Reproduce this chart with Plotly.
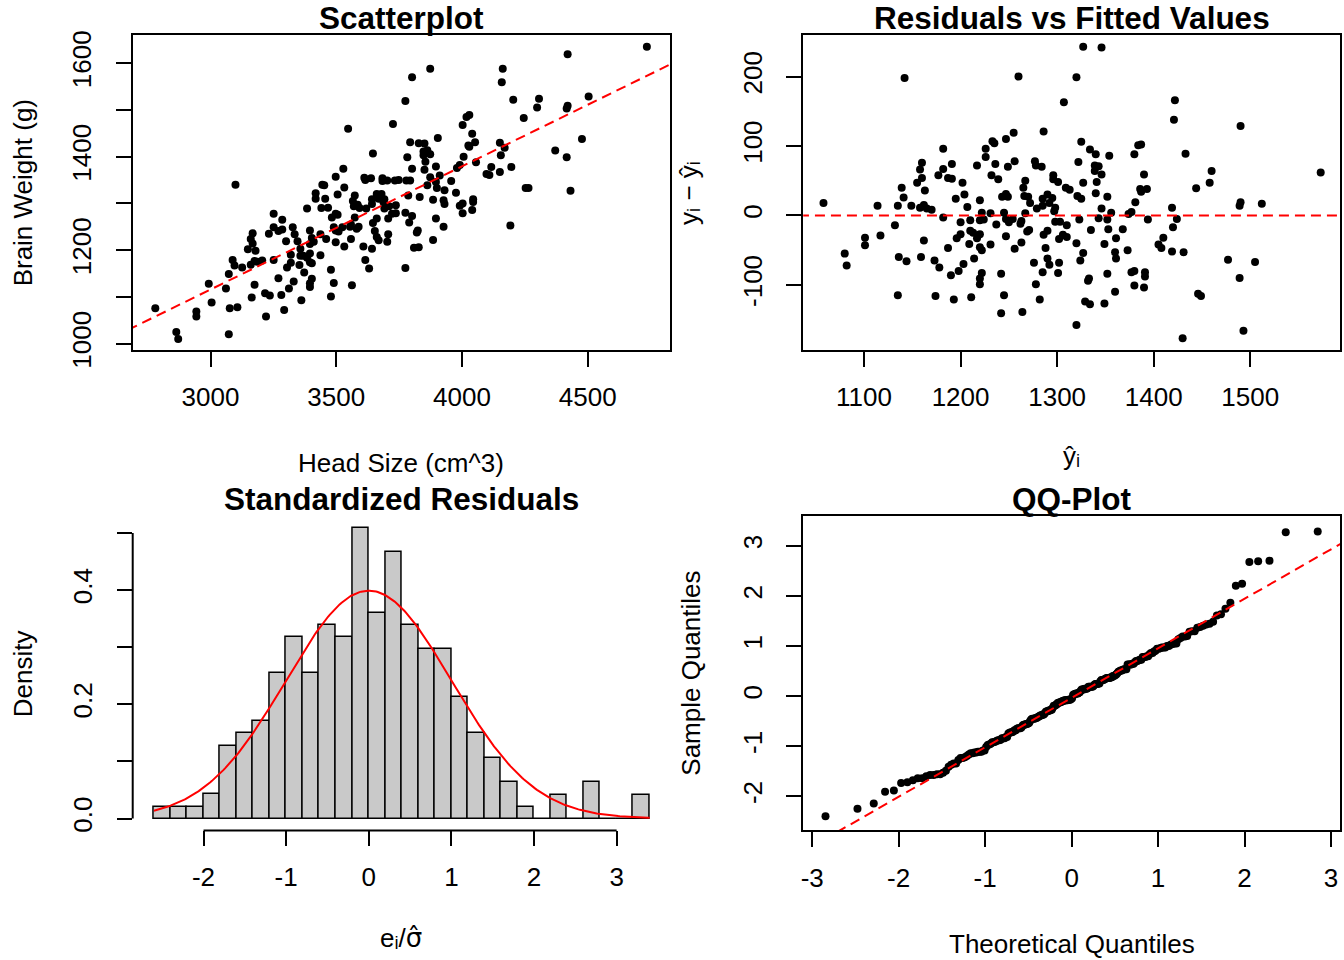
import numpy as np
import plotly.graph_objects as go
from statistics import NormalDist

# ---------------- data ----------------
# fitted values (y-hat) and residuals, read from the "Residuals vs Fitted Values" panel
fitted_values = [
    1142, 1182, 1160, 1158, 1160, 1155, 1163, 1139, 1141, 1177, 1182, 1191, 1187, 1191, 1202, 1204, 1195, 1217,
    1220, 1058, 1114, 1135, 1149, 1158, 1162, 1165, 1170, 1182, 1207, 1222, 1231, 1200, 1210, 1220, 1224, 1132,
    1101, 1101, 1117, 1162, 1196, 1200, 1210, 1213, 1217, 1220, 1209, 1220, 1222, 1231, 1187, 1080, 1082, 1136,
    1144, 1159, 1173, 1178, 1190, 1198, 1203, 1214, 1222, 1220, 1220, 1135, 1174, 1193, 1211,
    1327, 1346, 1260, 1320, 1307, 1422, 1421, 1286, 1255, 1247, 1233, 1235, 1226, 1325, 1334, 1340, 1354, 1380,
    1384, 1387, 1226, 1236, 1256, 1249, 1277, 1278, 1284, 1322, 1339, 1343, 1339, 1346, 1232, 1239, 1267, 1265,
    1296, 1296, 1301, 1327, 1341, 1309, 1313, 1390, 1386, 1393, 1387, 1340, 1352, 1243, 1247, 1249, 1266, 1270,
    1285, 1290, 1295, 1321, 1325, 1381, 1272,
    1245, 1237, 1247, 1250, 1254, 1262, 1263, 1267, 1279, 1285, 1292, 1298, 1297, 1298, 1303, 1310, 1269, 1271,
    1290, 1286, 1302, 1306, 1310, 1247, 1256, 1263, 1288, 1290, 1292, 1276, 1285, 1302, 1301, 1320, 1327, 1324,
    1323, 1335, 1343, 1346, 1352, 1356, 1353, 1349, 1361, 1368, 1360, 1361, 1373, 1374, 1377, 1394, 1242, 1245,
    1242, 1264, 1278, 1282, 1333, 1332, 1329, 1334, 1320, 1349, 1352, 1360, 1377, 1380, 1391, 1391, 1380, 1390,
    1405, 1408, 1410, 1419, 1420, 1419,
    1490, 1433, 1460, 1458, 1444, 1573, 1490, 1489, 1512, 1424, 1431, 1477, 1505, 1489, 1446, 1449, 1493, 1430,
]
residuals = [
    198, 96, 76, 66, 54, 47, 36, 40, 26, 58, 67, 74, 54, 53, 47, 30, 24, 72,
    22, 18, 14, 14, 14, 11, 15, 10, 8, -3, 12, 4, 3, -10, -7, -7, -6, -14,
    -32, -43, -29, -36, -33, -27, -22, -25, -33, -27, -41, -46, -50, -42, -47, -55, -72, -60,
    -66, -60, -65, -75, -86, -80, -70, -62, -83, -91, -99, -115, -116, -121, -118,
    243, 242, 200, 199, 163, 166, 138, 121, 119, 110, 107, 104, 96, 106, 95, 88, 86, 88,
    101, 102, 84, 74, 78, 70, 78, 72, 70, 77, 72, 71, 64, 59, 58, 52, 50, 40,
    58, 52, 48, 47, 48, 40, 37, 59, 38, 38, 34, 32, 27, 27, 31, 27, 28, 27,
    24, 30, 25, 28, 24, 19, 18,
    4, -13, -5, -10, -5, -12, -8, 3, 10, 14, 18, 11, 6, -9, -9, -14, -23, -21,
    -22, -28, -34, -28, -31, -30, -48, -39, -47, -62, -71, -68, -82, -68, -83, -40, -54, -65,
    -6, -21, -4, 10, -6, 4, -20, -41, -33, -20, -53, -62, -50, 2, 5, -6, -84, -115,
    -141, -139, -99, -121, -91, -94, -124, -128, -158, -127, -84, -110, -82, -80, -82, -88, -101, -104,
    -42, -47, -32, 11, -17, -52,
    129, 89, 64, 47, 39, 62, 19, 14, 17, -5, -53, -64, -67, -90, -113, -116, -166, -177,
]

# least-squares line of the scatterplot (brain = intercept + slope * head)
fit_intercept = 325.573
fit_slope = 0.263429

# histogram of standardized residuals (densities)
hist_start = -2.6
hist_binwidth = 0.2
hist_density = [0.021, 0.021, 0.021, 0.043, 0.127, 0.149, 0.170, 0.255, 0.318, 0.255,
                0.339, 0.318, 0.509, 0.360, 0.467, 0.339, 0.297, 0.297, 0.212, 0.149,
                0.106, 0.064, 0.021, 0.0, 0.042, 0.0, 0.064, 0.0, 0.0, 0.042]

# tick values / labels
sc_xticks = [3000, 3500, 4000, 4500]
sc_yticks = [1000, 1200, 1400, 1600]
sc_yminor = [1100, 1300, 1500]
rv_xticks = [1100, 1200, 1300, 1400, 1500]
rv_yticks = [-100, 0, 100, 200]
rv_ylabels = ["-100", "0", "100", "200"]
h_xticks = [-2, -1, 0, 1, 2, 3]
h_xlabels = ["-2", "-1", "0", "1", "2", "3"]
h_yticks = [0.0, 0.2, 0.4]
h_ylabels = ["0.0", "0.2", "0.4"]
h_yminor = [0.1, 0.3, 0.5]
qq_xticks = [-3, -2, -1, 0, 1, 2, 3]
qq_xlabels = ["-3", "-2", "-1", "0", "1", "2", "3"]
qq_yticks = [-2, -1, 0, 1, 2, 3]
qq_ylabels = ["-2", "-1", "0", "1", "2", "3"]

# ---------------- derived quantities ----------------
fv = np.array(fitted_values, float)
res = np.array(residuals, float)
head_size = (fv - fit_intercept) / fit_slope
brain_weight = fv + res
n = len(res)
sigma_hat = np.sqrt(np.sum(res ** 2) / (n - 2))
std_res = res / sigma_hat
nd = NormalDist()
sample_q = np.sort(std_res)
theo_q = np.array([nd.inv_cdf((i - 0.5) / n) for i in range(1, n + 1)])
q1y, q3y = np.quantile(std_res, [0.25, 0.75])
q1x, q3x = nd.inv_cdf(0.25), nd.inv_cdf(0.75)
qq_b = (q3y - q1y) / (q3x - q1x)
qq_a = q1y - qq_b * q1x

nb = len(hist_density)
bin_centers = [hist_start + hist_binwidth * (i + 0.5) for i in range(nb)]
curve_x = np.linspace(hist_start, hist_start + hist_binwidth * nb, 300)
curve_y = [nd.pdf(v) for v in curve_x]

FONT = "Liberation Sans, Arial, Helvetica, sans-serif"
RED = "#FF0000"
DASH = "10px,6px"

fig = go.Figure()
mk = dict(color="black", size=8)

fig.add_trace(go.Scatter(x=head_size, y=brain_weight, mode="markers", marker=mk,
                         xaxis="x", yaxis="y", showlegend=False))
lx = np.array([2500.0, 5000.0])
fig.add_trace(go.Scatter(x=lx, y=fit_intercept + fit_slope * lx, mode="lines",
                         line=dict(color=RED, width=2, dash=DASH), xaxis="x", yaxis="y", showlegend=False))

fig.add_trace(go.Scatter(x=fv, y=res, mode="markers", marker=mk, xaxis="x2", yaxis="y2", showlegend=False))
fig.add_trace(go.Scatter(x=[900, 1800], y=[0, 0], mode="lines",
                         line=dict(color=RED, width=2, dash=DASH), xaxis="x2", yaxis="y2", showlegend=False))

fig.add_trace(go.Bar(x=bin_centers, y=hist_density, width=hist_binwidth,
                     marker=dict(color="#C9C9C9", line=dict(color="black", width=1.5)),
                     xaxis="x3", yaxis="y3", showlegend=False))
fig.add_trace(go.Scatter(x=curve_x, y=curve_y, mode="lines", line=dict(color=RED, width=2),
                         xaxis="x3", yaxis="y3", showlegend=False))

fig.add_trace(go.Scatter(x=theo_q, y=sample_q, mode="markers", marker=mk, xaxis="x4", yaxis="y4", showlegend=False))
qx = np.array([-4.0, 4.0])
fig.add_trace(go.Scatter(x=qx, y=qq_a + qq_b * qx, mode="lines",
                         line=dict(color=RED, width=2, dash=DASH), xaxis="x4", yaxis="y4", showlegend=False))

# page geometry (body margin removed by the post script)
W, H = 1344, 985
Y0, YS = 3.9, 0.975   # observed vertical placement of the rendered page


def py(v):
    return (v - Y0) / YS


def dx(a, b):
    return [max(0.0, a / W), min(1.0, b / W)]


def dy(top, bottom):
    return [max(0.0, 1 - py(bottom) / H), min(1.0, 1 - py(top) / H)]


common = dict(showgrid=False, zeroline=False, ticks="outside", ticklen=15, tickwidth=2,
              tickcolor="black", tickfont=dict(size=26, family=FONT, color="black"),
              linecolor="black", linewidth=2)
xcommon = dict(common, ticklabelstandoff=8)
ycommon = dict(common, ticklabelstandoff=14)
minor_style = dict(ticks="outside", ticklen=15, tickwidth=2, tickcolor="black", showgrid=False)

fig.update_layout(
    width=W, height=H, margin=dict(l=0, r=0, t=0, b=0),
    paper_bgcolor="white", plot_bgcolor="white", bargap=0,
    xaxis=dict(domain=dx(130, 668), range=[2690.5, 4825.4], anchor="y", showline=True, mirror=True,
               tickvals=sc_xticks, **xcommon),
    yaxis=dict(domain=dy(35, 349), range=[987.1, 1660], anchor="x", showline=True, mirror=True,
               tickvals=sc_yticks, tickangle=-90, minor=dict(tickvals=sc_yminor, **minor_style), **ycommon),
    xaxis2=dict(domain=dx(802, 1340), range=[1037, 1593], anchor="y2", showline=True, mirror=True,
                tickvals=rv_xticks, **xcommon),
    yaxis2=dict(domain=dy(35, 349), range=[-193.4, 259.7], anchor="x2", showline=True, mirror=True,
                tickvals=rv_yticks, ticktext=rv_ylabels, tickangle=-90, **ycommon),
    xaxis3=dict(domain=dx(130, 668), range=[-2.857, 3.64], anchor="y3", showline=False,
                tickvals=h_xticks, ticktext=h_xlabels, **xcommon),
    yaxis3=dict(domain=dy(515, 829), range=[-0.021, 0.5298], anchor="x3", showline=False,
                tickvals=h_yticks, ticktext=h_ylabels, tickangle=-90,
                minor=dict(tickvals=h_yminor, **minor_style), **ycommon),
    xaxis4=dict(domain=dx(802, 1340), range=[-3.104, 3.104], anchor="y4", showline=True, mirror=True,
                tickvals=qq_xticks, ticktext=qq_xlabels, **xcommon),
    yaxis4=dict(domain=dy(515, 829), range=[-2.68, 3.6], anchor="x4", showline=True, mirror=True,
                tickvals=qq_yticks, ticktext=qq_ylabels, tickangle=-90, **ycommon),
)

# R-style axis lines for the histogram (span first to last tick)
fig.add_shape(type="line", xref="x3", yref="y3 domain", x0=h_xticks[0], x1=h_xticks[-1], y0=0, y1=0,
              line=dict(color="black", width=2))
fig.add_shape(type="line", xref="x3 domain", yref="y3", x0=0, x1=0, y0=0, y1=h_yminor[-1],
              line=dict(color="black", width=2))


def ann(text, xp, yp, size=26, bold=False, angle=0):
    t = f"<b>{text}</b>" if bold else text
    fig.add_annotation(text=t, x=xp / W, y=1 - py(yp) / H, xref="paper", yref="paper",
                       showarrow=False, xanchor="center", yanchor="middle", textangle=angle,
                       font=dict(size=size, family=FONT, color="black"))


ann("Scatterplot", 399, 18, 31.5, True)
ann("Residuals vs Fitted Values", 1071, 18, 31.5, True)
ann("Standardized Residuals", 399, 498, 31.5, True)
ann("QQ-Plot", 1071, 498, 31.5, True)
ann("Head Size (cm^3)", 399, 462)
ann("Brain Weight (g)", 20, 192, angle=-90)
ann("yᵢ − ŷᵢ", 688, 192, angle=-90)
ann("ŷᵢ", 1071, 455)
ann("Density", 20, 672, angle=-90)
ann('eᵢ/<span style="font-family:DejaVu Sans">σ̂</span>', 399, 936)
ann("Sample Quantiles", 690, 672, angle=-90)
ann("Theoretical Quantiles", 1071, 942)

fig.write_html("out.html", config={"displayModeBar": False},
               post_script="document.body.style.margin='0';"
                           "document.documentElement.style.overflow='hidden';"
                           "document.body.style.overflow='hidden';")
